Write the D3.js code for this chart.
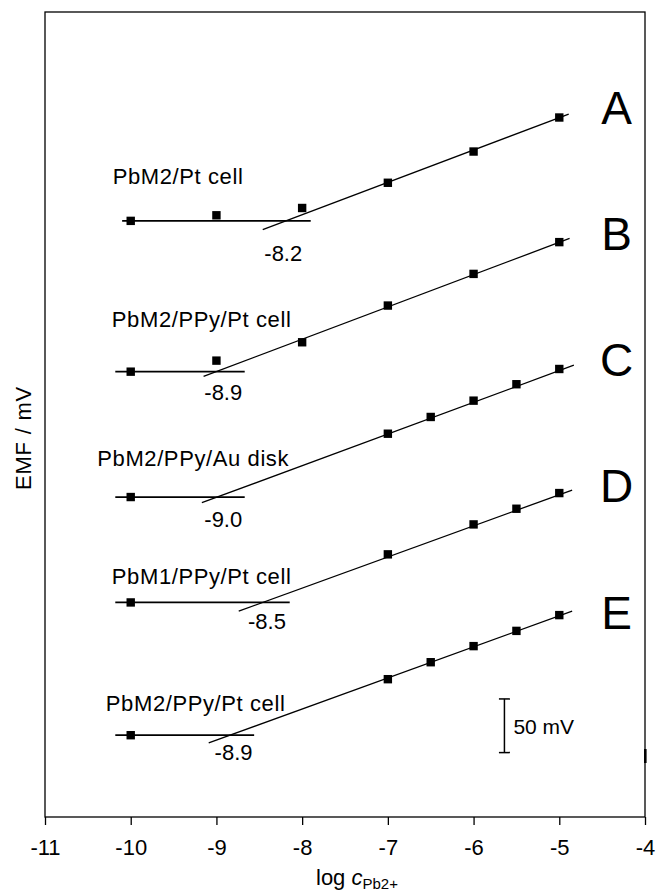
<!DOCTYPE html>
<html>
<head>
<meta charset="utf-8">
<script src="https://cdn.jsdelivr.net/npm/d3@7"></script>
<style>
  body { margin: 0; background: #fff; overflow: hidden; }
  text { font-family: "Liberation Sans", Arial, sans-serif; fill: #000; }
</style>
</head>
<body>
<script>
// x ticks (log c)
const xTicks = [-11, -10, -9, -8, -7, -6, -5, -4];

const curveNames = ['A', 'B', 'C', 'D', 'E'];
const cellNames = ['PbM2/Pt cell', 'PbM2/PPy/Pt cell', 'PbM2/PPy/Au disk', 'PbM1/PPy/Pt cell', 'PbM2/PPy/Pt cell'];
const limitLabels = ['-8.2', '-8.9', '-9.0', '-8.5', '-8.9'];

// measured points: log c and EMF (mV, curves shifted for display)
const logcA = [-10, -9, -8, -7, -6, -5];
const emfA = [555.4, 560.6, 567.4, 590.9, 620.0, 651.7];
const logcB = [-10, -9, -8, -7, -6, -5];
const emfB = [414.9, 425.2, 442.3, 476.5, 506.0, 535.6];
const logcC = [-10, -7, -6.5, -6, -5.5, -5];
const emfC = [298.1, 357.1, 372.7, 387.9, 403.2, 417.4];
const logcD = [-10, -7, -6, -5.5, -5];
const emfD = [199.9, 244.7, 272.6, 287.2, 301.8];
const logcE = [-10, -7, -6.5, -6, -5.5, -5];
const emfE = [76.2, 128.4, 144.2, 159.2, 173.4, 188.1];

// baseline (horizontal) and Nernstian fit lines: [x1, y1, x2, y2]
const baseA = [-10.1, 555.4, -7.9, 555.4];
const fitA = [-8.46, 547.3, -4.89, 654.9];
const baseB = [-10.18, 414.9, -8.67, 414.9];
const fitB = [-9.15, 410.5, -4.88, 539.0];
const baseC = [-10.18, 298.1, -8.67, 298.1];
const fitC = [-9.17, 292.8, -4.83, 420.9];
const baseD = [-10.18, 199.9, -8.145, 199.9];
const fitD = [-8.74, 191.8, -4.85, 304.6];
const baseE = [-10.18, 76.2, -8.56, 76.2];
const fitE = [-9.09, 69.0, -4.85, 191.8];

// 50 mV scale bar: x, from, to
const scaleBar = [-5.64, 60, 110];

const w = 660;
const h = 893;
const margin = { top: 12, right: 15, bottom: 76, left: 45 };
const innerWidth = w - margin.left - margin.right;
const innerHeight = h - margin.top - margin.bottom;

// annotation placement (data coords)
const cellPos = [[-10.21, 590], [-10.22, 456.9], [-10.39, 327.3], [-10.22, 217.0], [-10.29, 98.8]];
const letterPos = [[-4.33, 645.8], [-4.33, 528.5], [-4.33, 410.9], [-4.33, 293.7], [-4.33, 174.7]];
const limitPos = [[-8.22, 518.2], [-8.92, 388.6], [-8.92, 270.4], [-8.41, 175.6], [-8.80, 53.2]];

const series = curveNames.map((name, i) => {
    const xs = [logcA, logcB, logcC, logcD, logcE][i];
    const ys = [emfA, emfB, emfC, emfD, emfE][i];
    return {
        name: name,
        cell: cellNames[i],
        limit: limitLabels[i],
        points: xs.map((x, j) => ({ x: x, y: ys[j] })),
        base: [baseA, baseB, baseC, baseD, baseE][i],
        fit: [fitA, fitB, fitC, fitD, fitE][i]
    };
});

const svg = d3.select('body')
    .append('svg')
    .attr('width', w)
    .attr('height', h);

const xScale = d3.scaleLinear()
    .domain([-11, -4])
    .range([0, innerWidth]);

const yScale = d3.scaleLinear()
    .domain([0, 750])
    .range([innerHeight, 0]);

const g = svg.append('g')
    .attr('transform', `translate(${margin.left},${margin.top})`);

// frame
g.append('rect')
    .attr('width', innerWidth)
    .attr('height', innerHeight)
    .attr('fill', 'none')
    .attr('stroke', '#000')
    .attr('stroke-width', 1.3);

// small dark mark on right edge of frame
g.append('rect')
    .attr('x', innerWidth - 1)
    .attr('y', innerHeight - 68)
    .attr('width', 2.6)
    .attr('height', 14)
    .attr('fill', '#000');

const xAxis = d3.axisBottom(xScale)
    .tickValues(xTicks)
    .tickSize(8)
    .tickPadding(14)
    .tickFormat(d => String(d));

const xAxisG = g.append('g')
    .attr('transform', `translate(0, ${innerHeight})`)
    .call(xAxis);
xAxisG.select('.domain').remove();
xAxisG.selectAll('line').attr('stroke-width', 1.3);
xAxisG.selectAll('text')
    .attr('font-size', 22)
    .attr('font-family', '"Liberation Sans", Arial, sans-serif');

// lines
const seg = (sel, arr) => sel
    .attr('x1', xScale(arr[0])).attr('y1', yScale(arr[1]))
    .attr('x2', xScale(arr[2])).attr('y2', yScale(arr[3]))
    .attr('stroke', '#000');

series.forEach((s, i) => {
    const sg = g.append('g').attr('class', 'curve-' + s.name);
    seg(sg.append('line'), s.base).attr('stroke-width', 1.8);
    seg(sg.append('line'), s.fit).attr('stroke-width', 1.3);

    sg.selectAll('rect.pt')
        .data(s.points)
        .enter()
        .append('rect')
        .attr('class', 'pt')
        .attr('x', d => xScale(d.x) - 4.2)
        .attr('y', d => yScale(d.y) - 4.2)
        .attr('width', 8.4)
        .attr('height', 8.4)
        .attr('fill', '#000');

    sg.append('text')
        .attr('x', xScale(cellPos[i][0]))
        .attr('y', yScale(cellPos[i][1]))
        .attr('font-size', 22)
        .attr('letter-spacing', 0.6)
        .text(s.cell);

    sg.append('text')
        .attr('x', xScale(limitPos[i][0]))
        .attr('y', yScale(limitPos[i][1]))
        .attr('text-anchor', 'middle')
        .attr('font-size', 22)
        .text(s.limit);

    sg.append('text')
        .attr('x', xScale(letterPos[i][0]))
        .attr('y', yScale(letterPos[i][1]))
        .attr('text-anchor', 'middle')
        .attr('font-size', 46)
        .text(s.name);
});

// scale bar
const sb = g.append('g');
const sbx = xScale(scaleBar[0]);
sb.append('line')
    .attr('x1', sbx).attr('x2', sbx)
    .attr('y1', yScale(scaleBar[1])).attr('y2', yScale(scaleBar[2]))
    .attr('stroke', '#000').attr('stroke-width', 1.5);
[scaleBar[1], scaleBar[2]].forEach(v => {
    sb.append('line')
        .attr('x1', sbx - 5.5).attr('x2', sbx + 5.5)
        .attr('y1', yScale(v)).attr('y2', yScale(v))
        .attr('stroke', '#000').attr('stroke-width', 1.5);
});
sb.append('text')
    .attr('x', sbx + 9)
    .attr('y', yScale((scaleBar[1] + scaleBar[2]) / 2) + 8)
    .attr('font-size', 21)
    .text('50 mV');

// axis labels
const xl = svg.append('text')
    .attr('x', 316)
    .attr('y', 885)
    .attr('font-size', 22);
xl.append('tspan').text('log ');
xl.append('tspan').attr('font-style', 'italic').text('c');
xl.append('tspan').attr('font-size', 15).attr('dy', 4).text('Pb2+');

svg.append('text')
    .attr('transform', 'translate(31, 438) rotate(-90)')
    .attr('text-anchor', 'middle')
    .attr('font-size', 22)
    .attr('letter-spacing', 0.8)
    .text('EMF / mV');
</script>
</body>
</html>
